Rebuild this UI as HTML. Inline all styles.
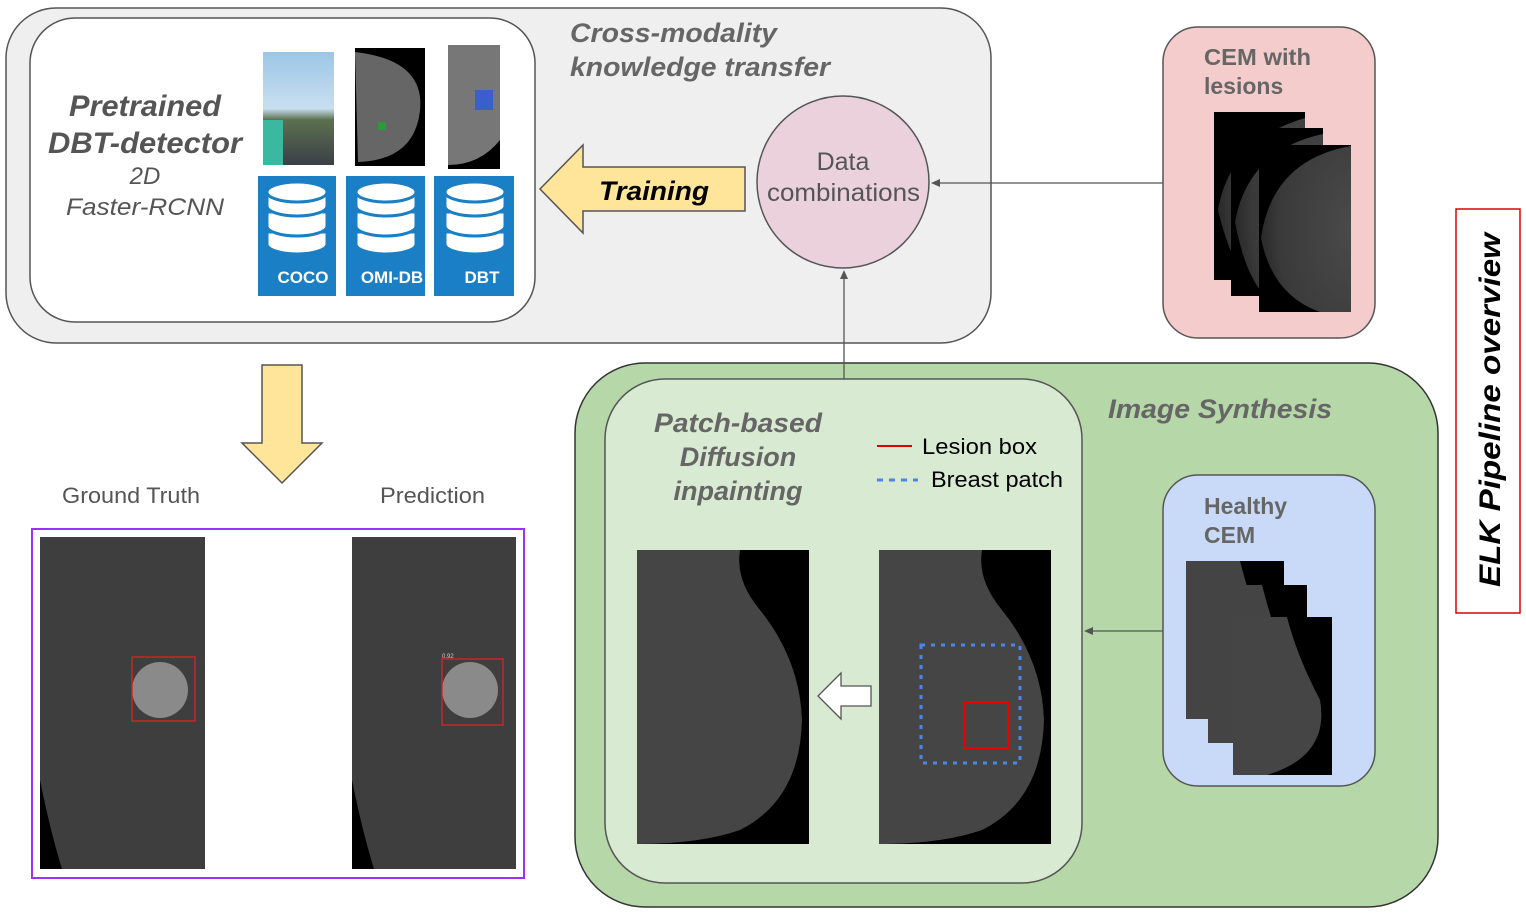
<!DOCTYPE html>
<html><head><meta charset="utf-8"><style>
body{margin:0;background:#fff;}
svg{display:block;font-family:"Liberation Sans",Arial,sans-serif;}
</style></head><body>
<svg width="1526" height="915" viewBox="0 0 1526 915" xmlns="http://www.w3.org/2000/svg">
<defs>
<radialGradient id="br" cx="1" cy="0.5" r="1"><stop offset="0" stop-color="#4a4a4a"/><stop offset="0.8" stop-color="#3a3a3a"/><stop offset="1" stop-color="#2a2a2a"/></radialGradient>
<linearGradient id="sky" x1="0" y1="0" x2="0" y2="1"><stop offset="0" stop-color="#9cc6e6"/><stop offset="0.5" stop-color="#c8dff0"/><stop offset="0.6" stop-color="#5d7050"/><stop offset="1" stop-color="#3a3f48"/></linearGradient>
</defs>
<rect x="6" y="8" width="985" height="335" rx="50" fill="#efefef" stroke="#555" stroke-width="1.5"/>
<rect x="30" y="18" width="505" height="304" rx="45" fill="#fff" stroke="#555" stroke-width="1.5"/>
<text x="69" y="116" font-size="30" font-weight="bold" font-style="italic" fill="#555" textLength="152" lengthAdjust="spacingAndGlyphs">Pretrained</text>
<text x="48" y="153" font-size="30" font-weight="bold" font-style="italic" fill="#555" textLength="194" lengthAdjust="spacingAndGlyphs">DBT-detector</text>
<text x="145" y="184" font-size="24" font-style="italic" fill="#555" text-anchor="middle">2D</text>
<text x="66" y="215" font-size="24" font-style="italic" fill="#555" textLength="158" lengthAdjust="spacingAndGlyphs">Faster-RCNN</text>
<text x="570" y="42" font-size="27" font-weight="bold" font-style="italic" fill="#666" textLength="207" lengthAdjust="spacingAndGlyphs">Cross-modality</text>
<text x="570" y="76" font-size="27" font-weight="bold" font-style="italic" fill="#666" textLength="260" lengthAdjust="spacingAndGlyphs">knowledge transfer</text>
<rect x="263" y="52" width="71" height="113" fill="url(#sky)"/>
<rect x="263" y="120" width="20" height="45" fill="#3bb8a0"/>
<rect x="355" y="48" width="70" height="118" fill="#000"/>
<path d="M355 52 Q425 60 420 110 Q415 160 358 162 Z" fill="#666"/>
<rect x="378" y="122" width="8" height="8" fill="#2a9a3a"/>
<rect x="448" y="45" width="52" height="124" fill="#000"/>
<path d="M448 45 L500 45 L500 140 Q480 165 448 165 Z" fill="#777"/>
<rect x="475" y="90" width="18" height="20" fill="#3a5fcc"/>
<g>
<rect x="258" y="176" width="78" height="120" fill="#1a7fc4"/>
<rect x="346" y="176" width="79" height="120" fill="#1a7fc4"/>
<rect x="434" y="176" width="80" height="120" fill="#1a7fc4"/>
<g fill="#fff" stroke="#1a7fc4" stroke-width="3">
<g id="db1">
<path d="M267 232 v12 a30 10 0 0 0 60 0 v-12 Z"/>
<path d="M267 212 v14 a30 10 0 0 0 60 0 v-14 Z"/>
<path d="M267 192 v14 a30 10 0 0 0 60 0 v-14 Z"/>
<ellipse cx="297" cy="192" rx="30" ry="10"/>
</g>
<use href="#db1" x="89"/>
<use href="#db1" x="178"/>
</g>
<text x="303" y="283" font-size="17" font-weight="bold" fill="#fff" text-anchor="middle">COCO</text>
<text x="392" y="283" font-size="17" font-weight="bold" fill="#fff" text-anchor="middle">OMI-DB</text>
<text x="482" y="283" font-size="17" font-weight="bold" fill="#fff" text-anchor="middle">DBT</text>
</g>
<path d="M540 189 L583 145 L583 167 L745 167 L745 211 L583 211 L583 233 Z" fill="#ffe599" stroke="#555" stroke-width="1.5"/>
<text x="599" y="200" font-size="27" font-weight="bold" font-style="italic" fill="#000" textLength="110" lengthAdjust="spacingAndGlyphs">Training</text>
<circle cx="843" cy="182" r="86" fill="#ead1dc" stroke="#555" stroke-width="1.5"/>
<text x="843" y="170" font-size="25" fill="#555" text-anchor="middle">Data</text>
<text x="767" y="201" font-size="25" fill="#555" textLength="153" lengthAdjust="spacingAndGlyphs">combinations</text>
<rect x="1163" y="27" width="212" height="311" rx="35" fill="#f4cccc" stroke="#555" stroke-width="1.5"/>
<text x="1204" y="65" font-size="23" font-weight="bold" fill="#666" textLength="107" lengthAdjust="spacingAndGlyphs">CEM with</text>
<text x="1204" y="94" font-size="23" font-weight="bold" fill="#666">lesions</text>
<g>
<rect x="1214" y="112" width="91" height="168" fill="#000"/>
<path d="M1305 118 Q1230 140 1218 210 Q1230 260 1248 280 L1305 280Z" fill="url(#br)"/>
<rect x="1231" y="128" width="92" height="168" fill="#000"/>
<path d="M1323 134 Q1248 150 1235 222 Q1245 275 1265 296 L1323 296Z" fill="url(#br)"/>
<rect x="1259" y="145" width="92" height="167" fill="#000"/>
<path d="M1351 146 Q1272 160 1261 238 Q1272 295 1320 312 L1351 312Z" fill="url(#br)"/>
</g>
<line x1="1163" y1="183" x2="936" y2="183" stroke="#555" stroke-width="1.3"/>
<path d="M931 183 l9 -4 v8 Z" fill="#555"/>
<rect x="1456" y="209" width="64" height="404" fill="#fff" stroke="#d00" stroke-width="1.5"/>
<text transform="translate(1500,587) rotate(-90)" font-size="30" font-weight="bold" font-style="italic" fill="#000" textLength="354" lengthAdjust="spacingAndGlyphs">ELK Pipeline overview</text>
<path d="M262 365 L302 365 L302 443 L322 443 L282 483 L242 443 L262 443 Z" fill="#ffe599" stroke="#555" stroke-width="1.5"/>
<text x="62" y="503" font-size="22" fill="#555" textLength="138" lengthAdjust="spacingAndGlyphs">Ground Truth</text>
<text x="380" y="503" font-size="22" fill="#555" textLength="105" lengthAdjust="spacingAndGlyphs">Prediction</text>
<rect x="32" y="529" width="492" height="349" fill="#fff" stroke="#9b30ff" stroke-width="2"/>
<rect x="40" y="537" width="165" height="332" fill="#3e3e3e"/>
<path d="M40 780 Q50 830 62 869 L40 869 Z" fill="#000"/>
<ellipse cx="160" cy="690" rx="28" ry="28" fill="#8a8a8a"/>
<rect x="132" y="657" width="63" height="64" fill="none" stroke="#d22" stroke-width="1.3"/>
<rect x="352" y="537" width="164" height="332" fill="#3e3e3e"/>
<path d="M352 780 Q362 830 374 869 L352 869 Z" fill="#000"/>
<ellipse cx="470" cy="690" rx="28" ry="28" fill="#8a8a8a"/>
<rect x="442" y="659" width="61" height="66" fill="none" stroke="#d22" stroke-width="1.3"/>
<text x="442" y="658" font-size="6" fill="#ccc">0.92</text>
<rect x="575" y="363" width="863" height="544" rx="70" fill="#b6d7a8" stroke="#333" stroke-width="1.5"/>
<line x1="844" y1="379" x2="844" y2="276" stroke="#555" stroke-width="1.3"/>
<path d="M844 270 l-4 9 h8 Z" fill="#555"/>
<text x="1108" y="418" font-size="27" font-weight="bold" font-style="italic" fill="#666" textLength="224" lengthAdjust="spacingAndGlyphs">Image Synthesis</text>
<rect x="605" y="379" width="477" height="504" rx="60" fill="#d9ead3" stroke="#555" stroke-width="1.5"/>
<text x="654" y="432" font-size="27" font-weight="bold" font-style="italic" fill="#666" textLength="168" lengthAdjust="spacingAndGlyphs">Patch-based</text>
<text x="738" y="466" font-size="27" font-weight="bold" font-style="italic" fill="#666" text-anchor="middle">Diffusion</text>
<text x="738" y="500" font-size="27" font-weight="bold" font-style="italic" fill="#666" text-anchor="middle">inpainting</text>
<line x1="877" y1="446" x2="912" y2="446" stroke="#d00" stroke-width="2"/>
<text x="922" y="454" font-size="22" fill="#000" textLength="115" lengthAdjust="spacingAndGlyphs">Lesion box</text>
<line x1="877" y1="480" x2="918" y2="480" stroke="#4a86e8" stroke-width="3" stroke-dasharray="6,6"/>
<text x="931" y="487" font-size="22" fill="#000" textLength="132" lengthAdjust="spacingAndGlyphs">Breast patch</text>
<rect x="637" y="550" width="172" height="294" fill="#000"/>
<path d="M637 550 L740 550 Q735 580 760 610 Q800 660 802 720 Q800 800 740 830 Q700 844 637 844 Z" fill="#454545"/>
<rect x="879" y="550" width="172" height="294" fill="#000"/>
<path d="M879 550 L982 550 Q977 580 1002 610 Q1042 660 1044 720 Q1042 800 982 830 Q942 844 879 844 Z" fill="#454545"/>
<rect x="921" y="645" width="99" height="118" fill="none" stroke="#4a86e8" stroke-width="3" stroke-dasharray="4,6"/>
<rect x="964" y="702" width="44" height="46" fill="none" stroke="#e00" stroke-width="2"/>
<path d="M818 696 L841 673 L841 686 L871 686 L871 706 L841 706 L841 719 Z" fill="#fff" stroke="#555" stroke-width="1.3"/>
<rect x="1163" y="475" width="212" height="311" rx="35" fill="#c9daf8" stroke="#555" stroke-width="1.5"/>
<text x="1204" y="514" font-size="23" font-weight="bold" fill="#666">Healthy</text>
<text x="1204" y="543" font-size="23" font-weight="bold" fill="#666">CEM</text>
<rect x="1186" y="561" width="98" height="158" fill="#000"/>
<path d="M1186 561 L1240 561 Q1250 600 1265 640 Q1270 700 1220 719 L1186 719Z" fill="#444"/>
<rect x="1208" y="585" width="99" height="158" fill="#000"/>
<path d="M1208 585 L1262 585 Q1272 624 1287 664 Q1292 724 1242 743 L1208 743Z" fill="#444"/>
<rect x="1233" y="617" width="99" height="158" fill="#000"/>
<path d="M1233 617 L1287 617 Q1297 656 1320 700 Q1330 756 1267 775 L1233 775Z" fill="#454545"/>
<line x1="1163" y1="631" x2="1090" y2="631" stroke="#555" stroke-width="1.3"/>
<path d="M1084 631 l9 -4 v8 Z" fill="#555"/>
</svg>
</body></html>
